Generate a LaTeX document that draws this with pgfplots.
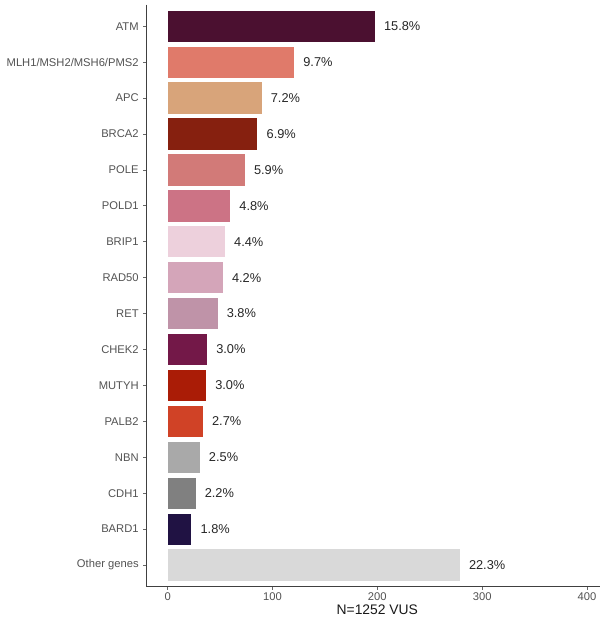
\documentclass[border=0pt]{standalone}
\usepackage{pgfplots}
\pgfplotsset{compat=1.18}
\usepackage{fontspec}
\setmainfont{Liberation Sans}

\definecolor{cATM}{HTML}{4B1030}
\definecolor{cMLH}{HTML}{E07A6A}
\definecolor{cAPC}{HTML}{D8A47A}
\definecolor{cBRCA}{HTML}{86200F}
\definecolor{cPOLE}{HTML}{D27A78}
\definecolor{cPOLD}{HTML}{CC7385}
\definecolor{cBRIP}{HTML}{EDD0DC}
\definecolor{cRAD}{HTML}{D4A5B9}
\definecolor{cRET}{HTML}{BF93A8}
\definecolor{cCHEK}{HTML}{731848}
\definecolor{cMUTYH}{HTML}{AA1C06}
\definecolor{cPALB}{HTML}{D04226}
\definecolor{cNBN}{HTML}{A9A9A9}
\definecolor{cCDH}{HTML}{808080}
\definecolor{cBARD}{HTML}{201243}
\definecolor{cOther}{HTML}{D9D9D9}

\begin{document}
\begin{tikzpicture}
  \begin{axis}[
      at={(0,0)}, anchor=south west,
      scale only axis,
      width=346pt, height=436.4pt,
      xbar, bar width=0.9, bar shift=0pt,
      xmin=-20, xmax=420,
      ymin=-0.6, ymax=15.6, y dir=reverse,
      xtick={0,100,200,300,400},
      ytick={0,...,15},
      yticklabels={ATM,MLH1/MSH2/MSH6/PMS2,APC,BRCA2,POLE,POLD1,BRIP1,RAD50,RET,CHEK2,MUTYH,PALB2,NBN,CDH1,BARD1,Other genes},
      axis x line*=bottom, axis y line*=left,
      axis line style={-, draw=black!75, line width=0.6pt},
      tick align=outside, major tick length=2.5pt,
      tick style={draw=black!60, line width=0.5pt},
      ticklabel style={font=\fontsize{8.4}{10}\selectfont, text=black!68},
      xticklabel style={yshift=1.5pt},
      /pgf/number format/assume math mode=true,
      xlabel={N=1252 VUS},
      xlabel style={font=\fontsize{10.4}{12}\selectfont, text=black!90,
        at={(axis description cs:0.5,0)}, anchor=center, yshift=-17.2pt},
      nodes near coords={\pgfplotspointmeta},
      point meta=explicit symbolic,
      every node near coord/.append style={font=\fontsize{9.6}{11}\selectfont,
        text=black!85, anchor=west, xshift=3pt},
      every axis plot/.append style={draw=white, line width=0.6pt},
    ]
    \addplot[fill=cATM]   coordinates {(198,0) [15.8\%]};
    \addplot[fill=cMLH]   coordinates {(121,1) [9.7\%]};
    \addplot[fill=cAPC]   coordinates {(90,2) [7.2\%]};
    \addplot[fill=cBRCA]  coordinates {(86,3) [6.9\%]};
    \addplot[fill=cPOLE]  coordinates {(74,4) [5.9\%]};
    \addplot[fill=cPOLD]  coordinates {(60,5) [4.8\%]};
    \addplot[fill=cBRIP]  coordinates {(55,6) [4.4\%]};
    \addplot[fill=cRAD]   coordinates {(53,7) [4.2\%]};
    \addplot[fill=cRET]   coordinates {(48,8) [3.8\%]};
    \addplot[fill=cCHEK]  coordinates {(38,9) [3.0\%]};
    \addplot[fill=cMUTYH] coordinates {(37,10) [3.0\%]};
    \addplot[fill=cPALB]  coordinates {(34,11) [2.7\%]};
    \addplot[fill=cNBN]   coordinates {(31,12) [2.5\%]};
    \addplot[fill=cCDH]   coordinates {(27,13) [2.2\%]};
    \addplot[fill=cBARD]  coordinates {(23,14) [1.8\%]};
    \addplot[fill=cOther] coordinates {(279,15) [22.3\%]};
  \end{axis}
  \pgfresetboundingbox
  \useasboundingbox (-110pt,-23.6pt) rectangle (340pt,439.9pt);
\end{tikzpicture}
\end{document}
